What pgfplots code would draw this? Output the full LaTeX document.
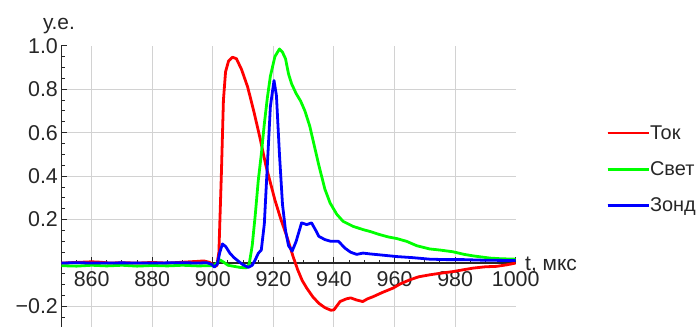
\documentclass[border=0pt]{standalone}
\usepackage{fontspec}
\setmainfont{Liberation Sans}
\usepackage{pgfplots}
\pgfplotsset{compat=1.18}
\usepackage{pgfplotstable}

\pgfplotstableread{
x y
850 0.0
855 0.003
860 0.006
863 0.004
866 0.0
870 0.002
875 0.0
880 0.003
885 0.0
890 0.004
895 0.008
897 0.01
899 0.003
900.5 -0.015
901.3 -0.012
902 0.05
902.8 0.4
903.5 0.75
904.2 0.88
905.2 0.93
906.5 0.947
907.8 0.94
909.5 0.89
911.5 0.81
913.5 0.70
915.5 0.58
917.5 0.45
919 0.37
920.5 0.29
922.5 0.20
924.5 0.12
926.5 0.03
928 -0.03
929.5 -0.08
931 -0.115
933 -0.155
935 -0.185
937 -0.205
939 -0.217
940 -0.215
942 -0.177
944 -0.165
945.5 -0.16
947.5 -0.17
949.5 -0.177
951 -0.165
953 -0.154
956 -0.135
959.5 -0.115
962 -0.095
965 -0.077
968 -0.063
971.6 -0.054
975 -0.047
979.3 -0.039
983 -0.03
986 -0.023
990 -0.017
993.7 -0.015
997 -0.008
1000 0.0
}\redtab

\pgfplotstableread{
x y
850 -0.012
855 -0.014
860 -0.01
865 -0.013
870 -0.01
875 -0.014
880 -0.011
885 -0.013
890 -0.01
895 -0.013
900 -0.012
901 -0.005
902.3 0.015
903.5 0.005
905 -0.01
907 -0.015
909 -0.02
911 -0.022
912 -0.005
913 0.08
914 0.22
915 0.38
916 0.50
917 0.64
918 0.76
919 0.86
920.5 0.95
922 0.985
923 0.97
924 0.94
925 0.87
926 0.825
927.5 0.78
929 0.745
930.4 0.70
932 0.63
933.5 0.54
935 0.45
937 0.34
938.7 0.277
940.9 0.225
943 0.192
946.3 0.169
949.6 0.154
952 0.145
955.1 0.131
958 0.12
960.7 0.113
964 0.1
967.3 0.08
971.6 0.065
975 0.06
979.3 0.052
983 0.04
986 0.033
991.5 0.023
995 0.02
1000 0.018
}\greentab

\pgfplotstableread{
x y
850 0.0
855 0.002
860 0.0
870 0.001
880 0.0
890 0.002
895 0.0
898 0.002
899.5 -0.005
900.5 -0.018
901.5 -0.005
902.3 0.05
903.2 0.088
904.3 0.075
905.6 0.046
907 0.025
908.5 0.008
910 -0.008
911.7 -0.02
913 -0.01
914 0.015
915 0.045
916 0.06
917 0.18
918 0.45
919 0.72
920.2 0.84
921 0.77
922 0.5
923 0.27
924 0.15
925 0.08
926.2 0.055
927.5 0.1
929.3 0.185
931 0.177
932.6 0.185
934 0.15
935 0.123
937 0.108
939 0.1
941.5 0.1
943.6 0.069
945.5 0.05
947.5 0.04
949.6 0.046
952 0.042
955 0.038
960.7 0.03
966 0.025
971.6 0.018
977 0.016
982.6 0.016
990 0.013
999 0.012
1000 0.012
}\bluetab

\begin{document}
\begin{tikzpicture}
\useasboundingbox (0,0) rectangle (698bp,327bp);
\begin{axis}[
  at={(61.4bp,0bp)}, anchor=south west,
  scale only axis, width=454.3bp, height=281.3bp,
  xmin=850, xmax=1000, ymin=-0.294, ymax=1.0,
  axis x line=middle, axis y line=left,
  axis line style={-, black!85, line width=1.2pt},
  every inner x axis line/.append style={-},
  every outer x axis line/.append style={-},
  every inner y axis line/.append style={-},
  every outer y axis line/.append style={-},
  xtick={860,880,900,920,940,960,980},
  xticklabels={860,880,900,920,940,960,980},
  extra x ticks={1000}, extra x tick labels={1000},
  ytick={-0.2,0.2,0.4,0.6,0.8},
  yticklabels={−0.2,0.2,0.4,0.6,0.8},
  extra y ticks={1.0}, extra y tick labels={1.0},
  extra tick style={grid=none},
  minor xtick={855,865,870,875,885,890,895,905,910,915,925,930,935,945,950,955,965,970,975,985,990,995},
  minor ytick={-0.25,-0.15,-0.1,-0.05,0.05,0.1,0.15,0.25,0.3,0.35,0.45,0.5,0.55,0.65,0.7,0.75,0.85,0.9,0.95},
  grid=major,
  major grid style={gray!35, line width=1pt},
  tick align=inside,
  major tick length=6bp, minor tick length=3.5bp,
  tick style={black!85, line width=1pt},
  ticklabel style={font=\fontsize{21.5}{25}\selectfont, text=black!85},
  xticklabel style={yshift=-5bp},
  every axis x label/.style={at={(axis description cs:1.0205,0.2026)}, anchor=base west, inner sep=0pt, font=\fontsize{21}{25}\selectfont, text=black!85},
  every axis y label/.style={at={(axis description cs:-0.0405,1.0576)}, anchor=base west, inner sep=0pt, font=\fontsize{21}{25}\selectfont, text=black!85},
  xlabel={t, мкс},
  ylabel={у.е.},
  legend style={at={(axis description cs:1.199,0.56)}, anchor=west, draw=none, fill=none, inner sep=0pt, row sep=21bp, font=\fontsize{20}{24}\selectfont, text=black!85, nodes={inner sep=0pt}},
  legend cell align=left,
  legend image code/.code={\draw[#1, line width=2.8pt] (0bp,0bp) -- (30bp,0bp); \path (0bp,0bp) -- (41bp,0bp);},
  every axis plot/.append style={line width=2.8pt, line join=round},
]
\addplot[color=red, no markers] table[x=x,y=y] {\redtab};
\addlegendentry{Ток}
\addplot[color=green, no markers] table[x=x,y=y] {\greentab};
\addlegendentry{Свет}
\addplot[color=blue, no markers] table[x=x,y=y] {\bluetab};
\addlegendentry{Зонд}
\end{axis}
\end{tikzpicture}
\end{document}
